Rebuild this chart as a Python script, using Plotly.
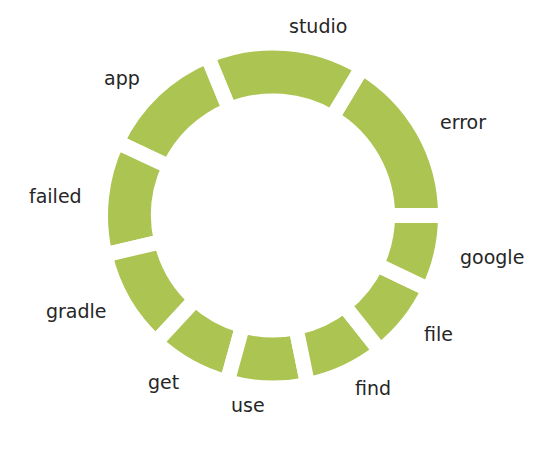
import numpy as np
import plotly.graph_objects as go

words = ["error", "studio", "app", "failed", "gradle", "get", "use", "find", "file", "google"]
counts = [59, 53.5, 42.5, 38.4, 34.1, 27.4, 27, 26.8, 26.3, 25.4]

W, H = 558, 460
cx, cy = 273, 215.5      # pie centre in pixels (from top-left)
R = 172.5                # pie radius in pixels
gap = 15                 # white separator width
label_r = 190

total = sum(counts)
# plotly places the first slice clockwise of `rotation` when counterclockwise,
# so shift the start so that the first slice begins at 3 o'clock going up
rotation = 90 - 360 * counts[0] / total

fig = go.Figure(go.Pie(
    labels=words, values=counts, sort=False, direction="counterclockwise",
    rotation=rotation, hole=0.664, textinfo="none", hoverinfo="label+value",
    marker=dict(colors=["#acc452"] * len(words), line=dict(color="white", width=gap)),
    domain=dict(x=[(cx - R) / W, (cx + R) / W], y=[1 - (cy + R) / H, 1 - (cy - R) / H]),
    showlegend=False,
))

cum = np.cumsum([0] + counts)
annotations = []
for i, w in enumerate(words):
    mid = (cum[i] + cum[i + 1]) / 2 / total * 2 * np.pi
    x = cx + label_r * np.cos(mid)
    y = cy - label_r * np.sin(mid)
    annotations.append(dict(
        x=x / W, y=1 - y / H, xref="paper", yref="paper", text=w, showarrow=False,
        xanchor="left" if np.cos(mid) > 0 else "right", yanchor="middle",
        font=dict(family="DejaVu Sans", size=19, color="#262626"),
    ))

fig.update_layout(
    width=W, height=H, margin=dict(l=0, r=0, t=0, b=0),
    paper_bgcolor="white", plot_bgcolor="white", annotations=annotations,
)
fig.write_html("out.html")
